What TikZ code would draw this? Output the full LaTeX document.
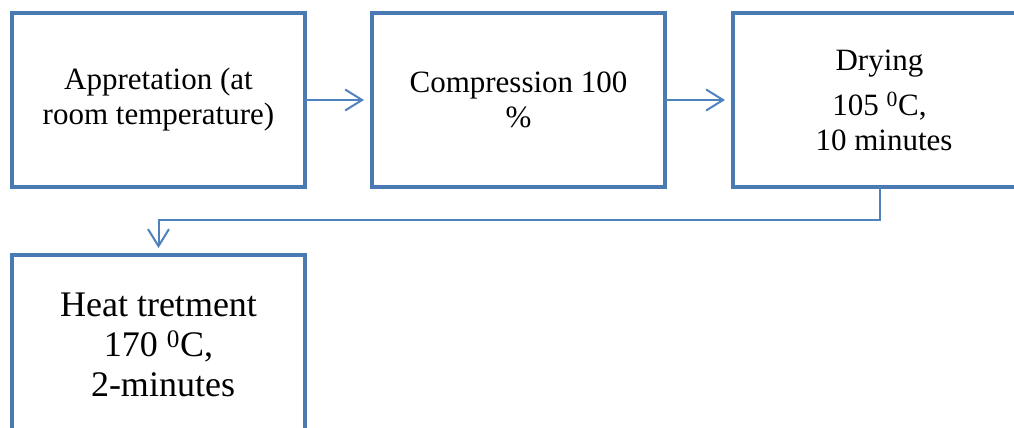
\documentclass[tikz,border=0pt]{standalone}
\usepackage{fontspec}
\setmainfont{Liberation Serif}
\usetikzlibrary{arrows.meta}
\definecolor{boxblue}{HTML}{4A7AB4}
\definecolor{arrowblue}{HTML}{4F81BD}
\tikzset{
  stepbox/.style={draw=boxblue, line width=4.5pt, fill=white, minimum width=293pt, minimum height=174pt,
    inner sep=0pt, outer sep=0pt, align=center, font=\fontsize{31}{35}\selectfont},
  bigbox/.style={stepbox, minimum height=180pt, font=\fontsize{36}{40}\selectfont},
  conn/.style={draw=arrowblue, line width=2pt, -{Straight Barb[length=17pt,width=21pt,line width=2pt]}}
}
\begin{document}
\begin{tikzpicture}[x=1pt,y=-1pt]
\useasboundingbox (0,0) rectangle (1014,428);
\clip (0,0) rectangle (1014,428);
\node[stepbox] (b1) at (158.5,100) {Appretation (at\\room temperature)};
\node[stepbox] (b2) at (518.5,100) {Compression 100\\\%};
\node[stepbox] (b3) at (879.5,100) {Drying\\[10pt]105 \textsuperscript{0}C,\\\hspace*{9pt}10 minutes};
\node[bigbox] (b4) at (158.5,345) {Heat tretment\\170 \textsuperscript{0}C,\\\hspace*{9pt}2-minutes};
\draw[conn, shorten >=8pt] (b1.east) -- (b2.west);
\draw[conn, shorten >=8pt] (b2.east) -- (b3.west);
\draw[conn, shorten >=7pt] (b3.south) -- ++(0,33) -| (b4.north);
\end{tikzpicture}
\end{document}
